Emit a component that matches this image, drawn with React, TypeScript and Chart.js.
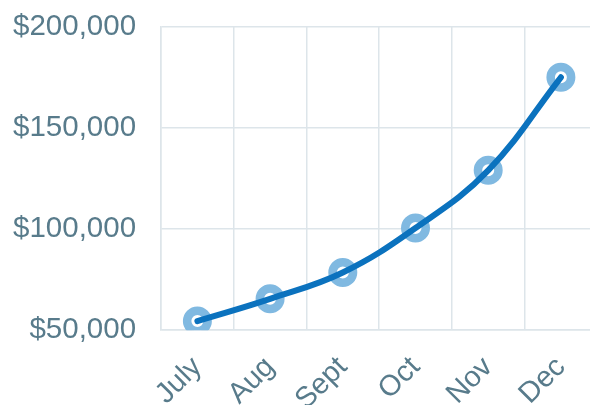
import React, { useEffect, useRef } from "react";
import { Chart, registerables } from "chart.js";

Chart.register(...registerables);

const categories = ["July", "Aug", "Sept", "Oct", "Nov", "Dec"];
const revenue = [54500, 65500, 78500, 100500, 129000, 175000];
const yTicks = [50000, 100000, 150000, 200000];

const TICK_COLOR = "#587b8b";
const GRID_COLOR = "#dde5ea";
const FONT = "'Liberation Sans', Arial, sans-serif";

export default function App() {
  const ref = useRef<HTMLCanvasElement | null>(null);
  useEffect(() => {
    document.body.style.margin = "0";
    document.body.style.overflow = "hidden";
    const ctx = ref.current!;
    const chart = new Chart(ctx, {
      type: "line",
      data: {
        labels: categories,
        datasets: [
          {
            data: revenue,
            borderColor: "#0b72be",
            borderWidth: 6,
            borderCapStyle: "round",
            tension: 0.4,
            pointRadius: 0,
            fill: false,
            order: 1,
          },
          {
            data: revenue,
            showLine: false,
            pointRadius: 10.25,
            pointBorderWidth: 8.5,
            pointBorderColor: "#80b9e1",
            pointBackgroundColor: "#ffffff",
            order: 2,
          },
        ],
      },
      options: {
        animation: false,
        responsive: false,
        layout: { padding: 0 },
        plugins: { legend: { display: false }, tooltip: { enabled: false } },
        scales: {
          x: {
            offset: true,
            grid: { color: GRID_COLOR, drawTicks: false, offset: true, lineWidth: 1.5 },
            border: { color: GRID_COLOR, width: 1.5 },
            ticks: {
              color: TICK_COLOR,
              font: { family: FONT, size: 29 },
              minRotation: 45,
              maxRotation: 45,
              padding: 20,
            },
          },
          y: {
            min: 50000,
            max: 200000,
            afterBuildTicks: (scale: any) => {
              scale.ticks = yTicks.map((v) => ({ value: v }));
            },
            grid: { color: GRID_COLOR, drawTicks: false, lineWidth: 1.5 },
            border: { color: GRID_COLOR, width: 1.5 },
            ticks: {
              color: TICK_COLOR,
              font: { family: FONT, size: 29.5 },
              padding: 25,
              callback: (v: any) => "$" + Number(v).toLocaleString("en-US"),
            },
          },
        },
      },
    });
    return () => chart.destroy();
  }, []);
  return (
    <div style={{ position: "absolute", left: -12, top: -16 }}>
      <canvas ref={ref} width={628} height={453} style={{ display: "block" }} />
    </div>
  );
}
